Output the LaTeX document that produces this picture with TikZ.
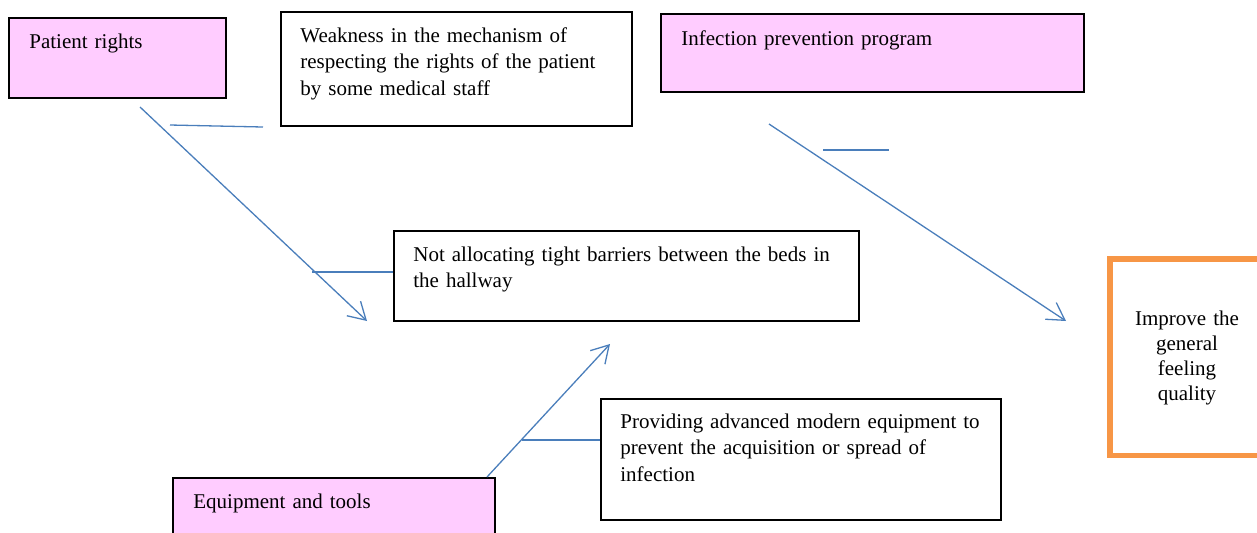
\documentclass[tikz,border=0pt]{standalone}
\usepackage{fontspec}
\setmainfont{Liberation Serif}
\usetikzlibrary{arrows.meta}
\definecolor{boxpink}{HTML}{FFCCFF}
\definecolor{edgeblue}{HTML}{4A7EBB}
\definecolor{goalorange}{HTML}{F79646}
\tikzset{
  BoxStyle/.style = { rectangle, draw, line width = 1pt, inner sep = 0pt,
                      anchor = north west },
  CauseStyle/.style = { BoxStyle, fill = boxpink },
  TextStyle/.style = { anchor = base west, inner sep = 0pt, align = left,
                       font = \fontsize{10.5}{13.35}\selectfont },
  EdgeStyle/.style = { draw = edgeblue, line width = 0.65pt } }

\begin{document}
\begin{tikzpicture}[x=0.5pt, y=-0.5pt]
  \useasboundingbox (0,0) rectangle (1257,532);
  \tikzset{
  ArrowStyle/.style = { EdgeStyle, -{Straight Barb[length=8.5pt, width=10pt]} } }
  \tikzstyle{GoalStyle}=[BoxStyle, draw = goalorange, line width = 2.75pt]

  \node[CauseStyle, minimum width = 108.5pt, minimum height = 40pt] (pr) at (8,17) {};
  \node[BoxStyle, minimum width = 175.5pt, minimum height = 57pt] (wk) at (280,11) {};
  \node[CauseStyle, minimum width = 211.5pt, minimum height = 39pt] (ip) at (660,13) {};
  \node[BoxStyle, minimum width = 232.5pt, minimum height = 45pt] (nb) at (393,230) {};
  \node[CauseStyle, minimum width = 161pt, minimum height = 40pt] (et) at (172,477) {};
  \node[BoxStyle, minimum width = 200pt, minimum height = 60.5pt] (pe) at (600,398) {};
  \node[GoalStyle, minimum width = 80pt, minimum height = 98.25pt] (im) at (1107,256) {};

  \node[TextStyle, text width = 90pt] (prT) at (29,48) {Patient rights};
  \node[TextStyle, text width = 160pt] (wkT) at (300,42)
    {Weakness in the mechanism of\\respecting the rights of the patient\\by some medical staff};
  \node[TextStyle, text width = 190pt] (ipT) at (681,45) {Infection prevention program};
  \node[TextStyle, text width = 215pt] (nbT) at (413,261)
    {Not allocating tight barriers between the beds in\\the hallway};
  \node[TextStyle, text width = 140pt] (etT) at (193,508) {Equipment and tools};
  \node[TextStyle, text width = 185pt] (peT) at (620,428)
    {Providing advanced modern equipment to\\prevent the acquisition or spread of\\infection};
  \node[TextStyle, anchor = base, align = center, text width = 70pt,
        font = \fontsize{10.5}{12.5}\selectfont] (imT) at (1187,325)
    {Improve the\\general\\feeling\\quality};

  \coordinate (prS) at (140,107);
  \coordinate (prE) at (367,321);
  \coordinate (ipS) at (769,124);
  \coordinate (ipE) at (1066,321);
  \coordinate (etS) at (487,477);
  \coordinate (etE) at (610,344);

  \coordinate (wkA) at (170,125);
  \coordinate (wkB) at (263,127);
  \coordinate (nbA) at (312,272);
  \coordinate (ipA) at (823,150);
  \coordinate (ipB) at (889,150);
  \coordinate (peA) at (522,440);

  \draw[ArrowStyle] (prS) -- (prE);
  \draw[ArrowStyle] (ipS) -- (ipE);
  \draw[ArrowStyle] (etS) -- (etE);

  \draw[EdgeStyle] (wkA) -- (wkB);
  \draw[EdgeStyle] (nbA) -- (nbA -| nb.west);
  \draw[EdgeStyle] (ipA) -- (ipB);
  \draw[EdgeStyle] (peA) -- (peA -| pe.west);

\end{tikzpicture}
\end{document}
